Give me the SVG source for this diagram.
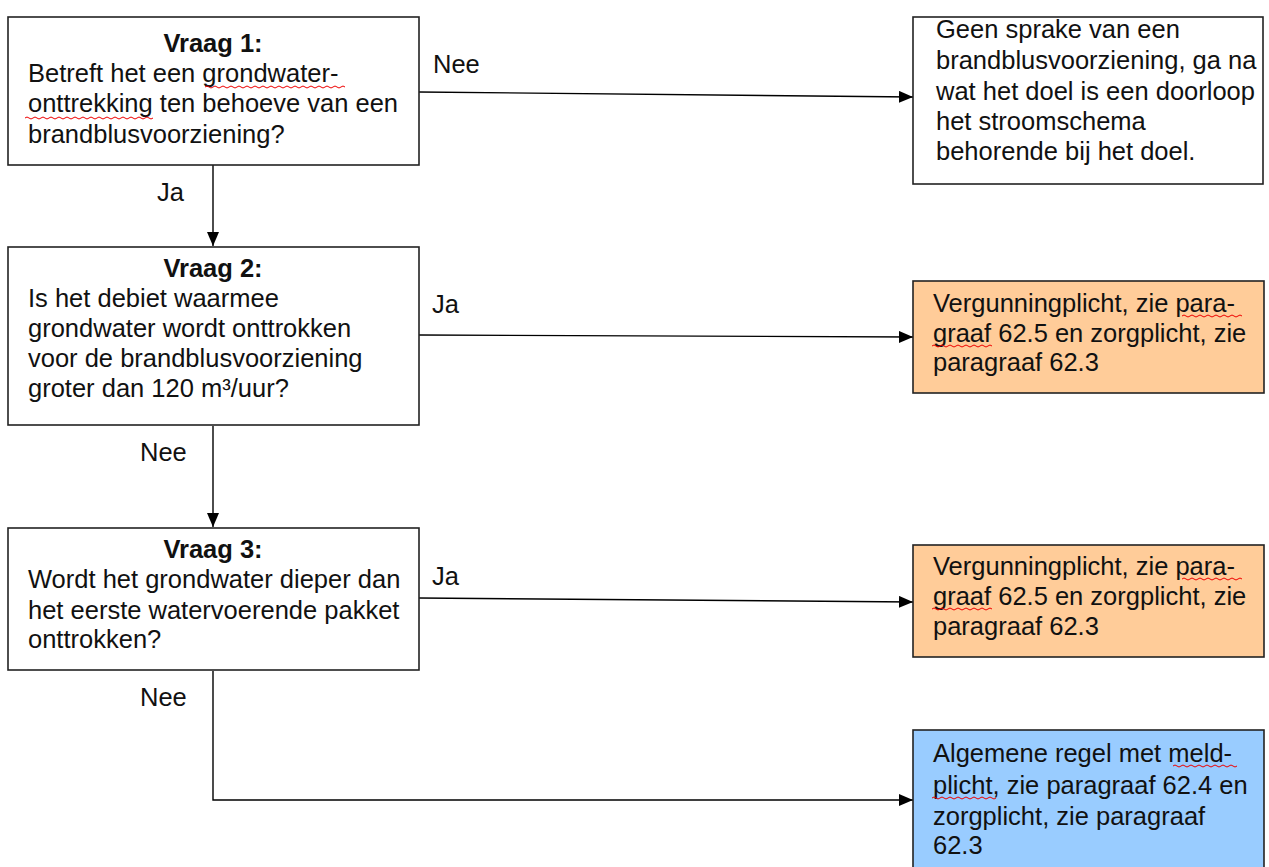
<svg xmlns="http://www.w3.org/2000/svg" width="1269" height="867" viewBox="0 0 1269 867">
<style>
.box{stroke:#222;stroke-width:1.6;fill:#fff}
.orange{fill:#FFCC99}
.blue{fill:#99CCFF}
text{font-family:"Liberation Sans",Arial,sans-serif;font-size:25.5px;fill:#111}
.b{font-weight:bold;text-anchor:middle}
.conn{stroke:#000;stroke-width:1.4;fill:none}
.sp{stroke:#e00;stroke-width:1;fill:none}
</style>
<defs>
<marker id="ah" viewBox="0 0 14 12" refX="14" refY="6" markerWidth="14" markerHeight="12" markerUnits="userSpaceOnUse" orient="auto">
<path d="M0,0 L14,6 L0,12 z" fill="#000"/>
</marker>
</defs>
<rect width="1269" height="867" fill="#fff"/>
<g id="connectors">
<line class="conn" x1="419" y1="92" x2="913" y2="97" marker-end="url(#ah)"/>
<line class="conn" x1="213" y1="165" x2="213" y2="246" marker-end="url(#ah)"/>
<line class="conn" x1="419" y1="335" x2="913" y2="337" marker-end="url(#ah)"/>
<line class="conn" x1="213" y1="426" x2="213" y2="527" marker-end="url(#ah)"/>
<line class="conn" x1="419" y1="598" x2="913" y2="602" marker-end="url(#ah)"/>
<polyline class="conn" points="213,671 213,800 913,800" marker-end="url(#ah)"/>
<text x="433" y="73">Nee</text>
<text x="157" y="201">Ja</text>
<text x="432" y="313">Ja</text>
<text x="140" y="461">Nee</text>
<text x="432" y="585">Ja</text>
<text x="140" y="706">Nee</text>
</g>
<g id="q1">
<rect class="box" x="8" y="17" width="411" height="148"/>
<text class="b" x="213" y="52">Vraag 1:</text>
<text x="28" y="82">Betreft het een grondwater-</text>
<text x="28" y="112">onttrekking ten behoeve van een</text>
<text x="28" y="143">brandblusvoorziening?</text>
<path class="sp" d="M205,87 q2,-2 4,0 t4,0 t4,0 t4,0 t4,0 t4,0 t4,0 t4,0 t4,0 t4,0 t4,0 t4,0 t4,0 t4,0 t4,0 t4,0 t4,0 t4,0 t4,0 t4,0 t4,0 t4,0 t4,0 t4,0 t4,0 t4,0 t4,0 t4,0 t4,0 t4,0 t4,0 t4,0 t4,0 t4,0 t4,0"/>
<path class="sp" d="M25,118 q2,-2 4,0 t4,0 t4,0 t4,0 t4,0 t4,0 t4,0 t4,0 t4,0 t4,0 t4,0 t4,0 t4,0 t4,0 t4,0 t4,0 t4,0 t4,0 t4,0 t4,0 t4,0 t4,0 t4,0 t4,0 t4,0 t4,0 t4,0 t4,0 t4,0 t4,0 t4,0 t4,0"/>
</g>
<g id="r1">
<rect class="box" x="913" y="17" width="350" height="167"/>
<text x="936" y="38">Geen sprake van een</text>
<text x="936" y="69">brandblusvoorziening, ga na</text>
<text x="936" y="100">wat het doel is een doorloop</text>
<text x="936" y="130">het stroomschema</text>
<text x="936" y="160">behorende bij het doel.</text>
</g>
<g id="q2">
<rect class="box" x="8" y="247" width="411" height="178"/>
<text class="b" x="213" y="277">Vraag 2:</text>
<text x="28" y="307">Is het debiet waarmee</text>
<text x="28" y="337">grondwater wordt onttrokken</text>
<text x="28" y="367">voor de brandblusvoorziening</text>
<text x="28" y="397">groter dan 120 m³/uur?</text>
</g>
<g id="r2">
<rect class="box orange" x="913" y="281" width="351" height="112"/>
<text x="933" y="312">Vergunningplicht, zie para-</text>
<text x="933" y="342">graaf 62.5 en zorgplicht, zie</text>
<text x="933" y="371">paragraaf 62.3</text>
<path class="sp" d="M1182,316 q2,-2 4,0 t4,0 t4,0 t4,0 t4,0 t4,0 t4,0 t4,0 t4,0 t4,0 t4,0 t4,0 t4,0 t4,0 t4,0"/>
<path class="sp" d="M932,346 q2,-2 4,0 t4,0 t4,0 t4,0 t4,0 t4,0 t4,0 t4,0 t4,0 t4,0 t4,0 t4,0 t4,0 t4,0 t4,0"/>
</g>
<g id="q3">
<rect class="box" x="8" y="528" width="411" height="142"/>
<text class="b" x="213" y="558">Vraag 3:</text>
<text x="28" y="588">Wordt het grondwater dieper dan</text>
<text x="28" y="619">het eerste watervoerende pakket</text>
<text x="28" y="648">onttrokken?</text>
</g>
<g id="r3">
<rect class="box orange" x="913" y="545" width="351" height="112"/>
<text x="933" y="575">Vergunningplicht, zie para-</text>
<text x="933" y="605">graaf 62.5 en zorgplicht, zie</text>
<text x="933" y="635">paragraaf 62.3</text>
<path class="sp" d="M1182,579 q2,-2 4,0 t4,0 t4,0 t4,0 t4,0 t4,0 t4,0 t4,0 t4,0 t4,0 t4,0 t4,0 t4,0 t4,0 t4,0"/>
<path class="sp" d="M932,609 q2,-2 4,0 t4,0 t4,0 t4,0 t4,0 t4,0 t4,0 t4,0 t4,0 t4,0 t4,0 t4,0 t4,0 t4,0 t4,0"/>
</g>
<g id="r4">
<rect class="box blue" x="913" y="730" width="351" height="140"/>
<text x="933" y="762">Algemene regel met meld-</text>
<text x="933" y="794">plicht, zie paragraaf 62.4 en</text>
<text x="933" y="825">zorgplicht, zie paragraaf</text>
<text x="933" y="854">62.3</text>
<path class="sp" d="M1173,766 q2,-2 4,0 t4,0 t4,0 t4,0 t4,0 t4,0 t4,0 t4,0 t4,0 t4,0 t4,0 t4,0 t4,0 t4,0 t4,0 t4,0"/>
<path class="sp" d="M932,798 q2,-2 4,0 t4,0 t4,0 t4,0 t4,0 t4,0 t4,0 t4,0 t4,0 t4,0 t4,0 t4,0 t4,0 t4,0 t4,0 t4,0"/>
</g>
</svg>
